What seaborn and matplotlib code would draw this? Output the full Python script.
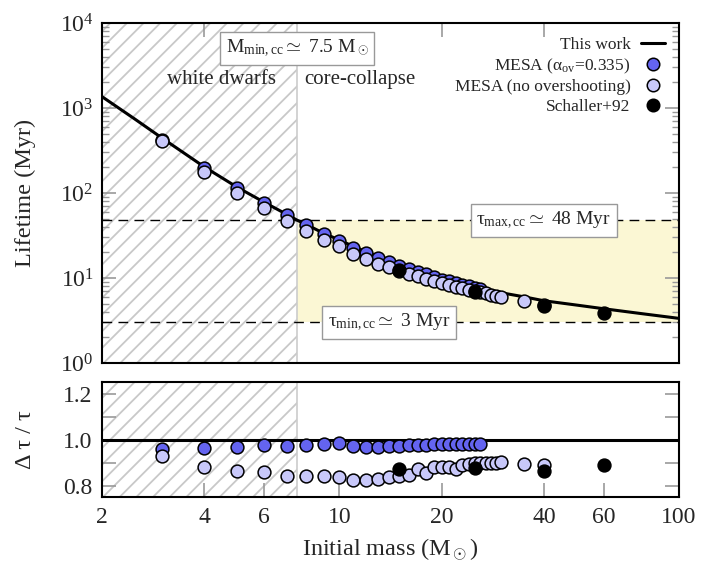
import numpy as np
import pandas as pd
import matplotlib
matplotlib.use("Agg")
import matplotlib.pyplot as plt
import matplotlib.transforms as mtransforms
from matplotlib.lines import Line2D
from matplotlib.ticker import FixedLocator, NullLocator, LogLocator, NullFormatter, FixedFormatter
import seaborn as sns

# ---------------- data ----------------
curve_mass = [2, 2.5, 3, 4, 5, 6, 7, 7.5, 8, 9, 10, 11, 12, 13, 14, 15, 17, 20,
              25, 30, 35, 40, 50, 60, 80, 100]
curve_life = [1360, 740, 445, 203, 117, 78, 56, 48, 42.5, 33.5, 28, 23.5, 20.3,
              17.8, 16.0, 14.4, 12.2, 9.8, 7.8, 6.7, 6.0, 5.4, 4.8, 4.35, 3.75, 3.35]

ov_mass = [3, 4, 5, 6, 7, 8, 9, 10, 11, 12, 13, 14, 15, 16, 17, 18, 19, 20, 21,
           22, 23, 24, 25, 26]
ov_life = [426, 195, 113, 76.2, 54.4, 41.6, 32.9, 27.5, 22.8, 19.7, 17.2, 15.6,
           14.0, 12.9, 11.9, 11.05, 10.3, 9.6, 9.16, 8.73, 8.34, 8.0, 7.66, 7.41]
ov_ratio = [0.957, 0.961, 0.967, 0.977, 0.971, 0.978, 0.981, 0.983, 0.971, 0.969,
            0.967, 0.972, 0.973, 0.975, 0.977, 0.978, 0.979, 0.980, 0.980, 0.981,
            0.981, 0.982, 0.982, 0.982]

noov_mass = [3, 4, 5, 6, 7, 8, 9, 10, 11, 12, 13, 14, 15, 16, 17, 18, 19, 20, 21,
             22, 23, 24, 25, 26, 27, 28, 29, 30, 35, 40]
noov_life = [414, 178.6, 101.2, 66.8, 47.2, 35.8, 28.2, 23.5, 19.4, 16.7, 14.8,
             13.4, 12.1, 11.2, 10.65, 9.66, 9.24, 8.62, 8.23, 7.77, 7.57, 7.29, 7.0,
             6.79, 6.59, 6.39, 6.21, 6.04, 5.36, 4.81]
noov_ratio = [0.930, 0.880, 0.865, 0.857, 0.843, 0.843, 0.841, 0.838, 0.826, 0.823,
              0.829, 0.836, 0.843, 0.846, 0.873, 0.855, 0.880, 0.880, 0.880, 0.873,
              0.890, 0.894, 0.897, 0.899, 0.900, 0.900, 0.900, 0.901, 0.894, 0.890]

sch_mass = [15, 25, 40, 60]
sch_life = [12.4, 6.9, 4.68, 3.84]
sch_ratio = [0.873, 0.877, 0.862, 0.888]

m_min_cc = 7.5
tau_max_cc = 48
tau_min_cc = 3

x_tick_vals = [2, 4, 6, 10, 20, 40, 60, 100]
x_tick_labels = ["2", "4", "6", "10", "20", "40", "60", "100"]
ratio_tick_vals = [0.8, 1.0, 1.2]
ratio_tick_labels = ["0.8", "1.0", "1.2"]

# ---------------- style ----------------
sns.set_theme(style="white")
plt.rcParams["font.family"] = ["Liberation Serif", "DejaVu Serif"]
plt.rcParams["mathtext.fontset"] = "custom"
plt.rcParams["mathtext.rm"] = "Liberation Serif"
plt.rcParams["mathtext.it"] = "Liberation Serif:italic"
plt.rcParams["mathtext.bf"] = "Liberation Serif:bold"
plt.rcParams["hatch.linewidth"] = 1.3
plt.rcParams["axes.edgecolor"] = "black"
plt.rcParams["axes.linewidth"] = 1.5

C_OV = "#6464f0"
C_NOOV = "#c8c8fa"
C_SCH = "black"
HATCH_C = "#c8c8c8"
TICK_C = "#999999"

df_curve = pd.DataFrame({"mass": curve_mass, "life": curve_life})
df_ov = pd.DataFrame({"mass": ov_mass, "life": ov_life, "ratio": ov_ratio})
df_noov = pd.DataFrame({"mass": noov_mass, "life": noov_life, "ratio": noov_ratio})
df_sch = pd.DataFrame({"mass": sch_mass, "life": sch_life, "ratio": sch_ratio})

W, H = 714, 568
fig = plt.figure(figsize=(W / 100, H / 100), dpi=100)
ax1 = fig.add_axes([102 / W, 1 - 363 / H, 577 / W, 340 / H])
ax2 = fig.add_axes([102 / W, 1 - 497 / H, 577 / W, 115 / H])

for ax in (ax1, ax2):
    ax.set_xscale("log")
    ax.set_xlim(2, 100)
    ax.axvspan(2, m_min_cc, facecolor="none", edgecolor=HATCH_C, hatch="//",
               lw=0, zorder=0)
    ax.axvline(m_min_cc, color="#cccccc", lw=1.2, zorder=0.5)

# ---------------- top panel ----------------
ax1.set_yscale("log")
ax1.set_ylim(1, 1e4)
ax1.fill_between([m_min_cc, 100], tau_min_cc, tau_max_cc, color="#fbf7d4",
                 lw=0, zorder=0.2)
ax1.axhline(tau_max_cc, color="black", lw=1.0, ls=(0, (7, 4.5)), zorder=1)
ax1.axhline(tau_min_cc, color="black", lw=1.0, ls=(0, (7, 4.5)), zorder=1)

sns.lineplot(data=df_curve, x="mass", y="life", ax=ax1, color="black", lw=2.2,
             sort=False, estimator=None, zorder=3, legend=False)
skw = dict(s=85, edgecolor="black", linewidth=1.1, legend=False)
sns.scatterplot(data=df_ov, x="mass", y="life", ax=ax1, color=C_OV, zorder=4, **skw)
sns.scatterplot(data=df_noov, x="mass", y="life", ax=ax1, color=C_NOOV, zorder=5, **skw)
sns.scatterplot(data=df_sch, x="mass", y="life", ax=ax1, color=C_SCH, zorder=6, **skw)

blend1 = mtransforms.blended_transform_factory(ax1.transData, ax1.transAxes)
box = dict(boxstyle="square,pad=0.3", fc="white", ec="#999999", lw=1.0)
ax1.text(m_min_cc, 0.925, r"M$_{\rm min,cc}$$\simeq$ 7.5 M$_\odot$", transform=blend1,
         ha="center", va="center", fontsize=14, bbox=box, zorder=8)
ax1.annotate("white dwarfs", xy=(m_min_cc, 0.835), xycoords=blend1,
             xytext=(-15, 0), textcoords="offset points", ha="right", va="center",
             fontsize=15)
ax1.annotate("core-collapse", xy=(m_min_cc, 0.835), xycoords=blend1,
             xytext=(5, 0), textcoords="offset points", ha="left", va="center",
             fontsize=15)
ax1.text(40, tau_max_cc, r"τ$_{\rm max,cc}$$\simeq$ 48 Myr", ha="center", va="center",
         fontsize=14, bbox=box, zorder=8)
ax1.text(14, tau_min_cc, r"τ$_{\rm min,cc}$$\simeq$ 3 Myr", ha="center", va="center",
         fontsize=14, bbox=box, zorder=8)

handles = [
    Line2D([], [], color="black", lw=2.2),
    Line2D([], [], ls="none", marker="o", ms=9, mfc=C_OV, mec="black", mew=1.1),
    Line2D([], [], ls="none", marker="o", ms=9, mfc=C_NOOV, mec="black", mew=1.1),
    Line2D([], [], ls="none", marker="o", ms=9, mfc=C_SCH, mec="black", mew=1.1),
]
labels = ["This work", r"MESA (α$_{\rm ov}$=0.335)", "MESA (no overshooting)",
          "Schaller+92"]
ax1.legend(handles, labels, loc="upper right", bbox_to_anchor=(1.0, 1.0),
           markerfirst=False, frameon=False, fontsize=12.5, handlelength=1.4,
           handletextpad=0.6, labelspacing=0.2, borderaxespad=0.4)

ax1.yaxis.set_major_locator(LogLocator(base=10, numticks=10))
ax1.yaxis.set_minor_locator(LogLocator(base=10, subs=np.arange(2, 10), numticks=10))
ax1.yaxis.set_minor_formatter(NullFormatter())
ax1.xaxis.set_major_locator(FixedLocator([4, 20, 40]))
ax1.xaxis.set_minor_locator(NullLocator())
ax1.tick_params(axis="x", which="both", direction="in", top=True, bottom=False,
                labelbottom=False, color=TICK_C, length=10, width=1.2)
ax1.tick_params(axis="y", which="major", direction="in", left=True, right=True,
                color=TICK_C, length=10, width=1.2, labelsize=17, pad=6)
ax1.tick_params(axis="y", which="minor", direction="in", left=True, right=True,
                color=TICK_C, length=5, width=1.0)
ax1.set_xlabel("")
ax1.set_ylabel("Lifetime (Myr)", fontsize=17.5)
ax1.yaxis.set_label_coords(-0.115, 0.5)

# ---------------- bottom panel ----------------
ax2.set_ylim(0.75, 1.25)
ax2.axhline(1.0, color="black", lw=2.2, zorder=3)
sns.scatterplot(data=df_ov, x="mass", y="ratio", ax=ax2, color=C_OV, zorder=4, **skw)
sns.scatterplot(data=df_noov, x="mass", y="ratio", ax=ax2, color=C_NOOV, zorder=5, **skw)
sns.scatterplot(data=df_sch, x="mass", y="ratio", ax=ax2, color=C_SCH, zorder=6, **skw)

ax2.xaxis.set_major_locator(FixedLocator(x_tick_vals))
ax2.xaxis.set_major_formatter(FixedFormatter(x_tick_labels))
ax2.xaxis.set_minor_locator(NullLocator())
ax2.yaxis.set_major_locator(FixedLocator(ratio_tick_vals))
ax2.yaxis.set_major_formatter(FixedFormatter(ratio_tick_labels))
ax2.yaxis.set_minor_locator(FixedLocator([0.9, 1.1]))
ax2.tick_params(axis="x", which="major", direction="in", bottom=True, top=False,
                color=TICK_C, length=10, width=1.2, labelsize=17, pad=7)
ax2.tick_params(axis="y", which="both", direction="in", left=True, right=True,
                color=TICK_C, length=10, width=1.2, labelsize=17, pad=7)
ax2.set_xlabel(r"Initial mass (M$_\odot$)", fontsize=17.5, va="center")
ax2.xaxis.set_label_coords(0.5, -(550 - 497) / 115)
ax2.set_ylabel("Δ τ / τ", fontsize=17.5)
ax2.yaxis.set_label_coords(-0.115, 0.5)

fig.savefig("out.png", dpi=100)
